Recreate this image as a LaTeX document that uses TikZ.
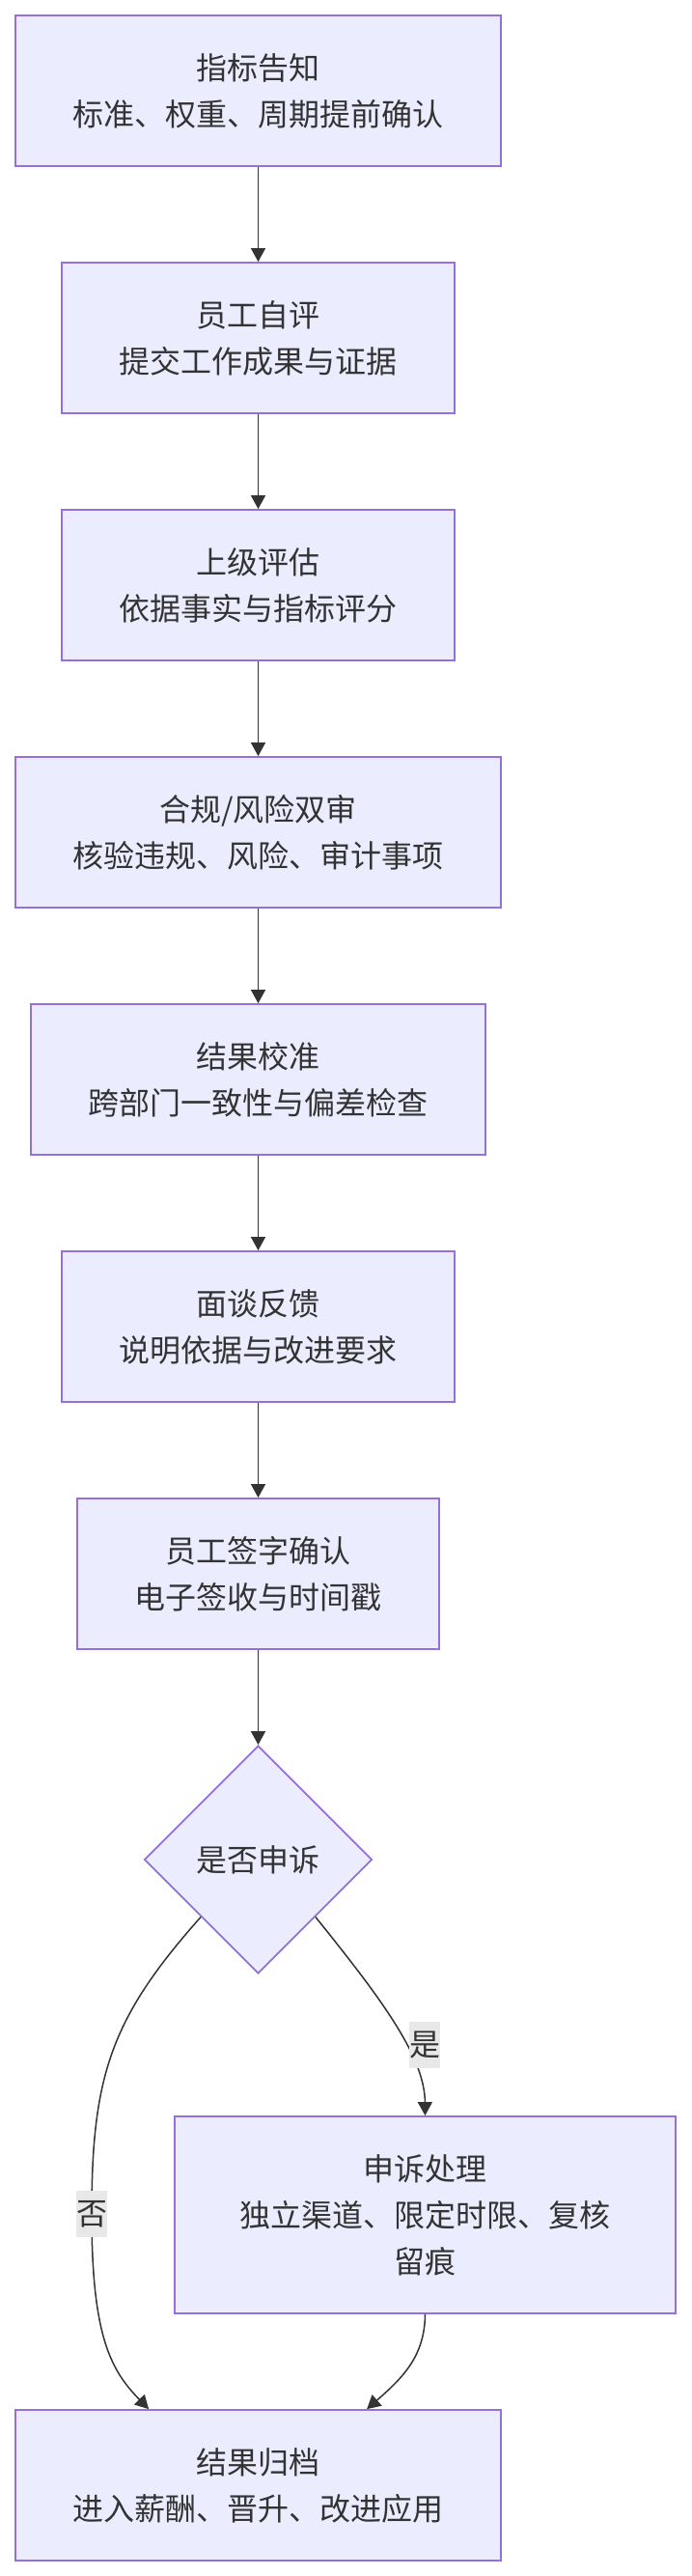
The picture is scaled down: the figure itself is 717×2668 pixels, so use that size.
\documentclass[tikz,border=0pt]{standalone}
\usepackage{fontspec}
\newfontfamily\cjk{Noto Sans CJK SC}
\usetikzlibrary{arrows.meta,shapes.geometric,calc}
\definecolor{boxfill}{HTML}{ECECFF}
\definecolor{boxline}{HTML}{9370DB}
\definecolor{txt}{HTML}{333333}
\definecolor{lblbg}{HTML}{E8E8E8}
\begin{document}
\begin{tikzpicture}[x=0.5pt,y=-0.5pt,
  every node/.style={text=txt},
  box/.style={draw=boxline,fill=boxfill,line width=0.9pt,rectangle,inner sep=0pt,
    align=center,font=\cjk\fontsize{16pt}{24pt}\selectfont,minimum height=78pt},
  dia/.style={draw=boxline,fill=boxfill,line width=0.9pt,diamond,aspect=1,inner sep=0pt,
    minimum width=118pt,minimum height=118pt,font=\cjk\fontsize{16pt}{24pt}\selectfont},
  lbl/.style={fill=lblbg,inner xsep=0pt,inner ysep=0pt,minimum height=24pt,
    font=\cjk\fontsize{16pt}{24pt}\selectfont},
  conn/.style={draw=txt,line width=0.75pt,-{Triangle[length=7pt,width=7.5pt]}}]
\useasboundingbox (0,0) rectangle (717,2668);
\fill[white] (0,0) rectangle (717,2668);
\node[box,minimum width=251.5pt] (n1) at (267.5,94) {指标告知\\标准、权重、周期提前确认};
\node[box,minimum width=203.5pt] (n2) at (267.5,350) {员工自评\\提交工作成果与证据};
\node[box,minimum width=203.5pt] (n3) at (267.5,606) {上级评估\\依据事实与指标评分};
\node[box,minimum width=251.5pt] (n4) at (267.5,862) {合规/风险双审\\核验违规、风险、审计事项};
\node[box,minimum width=235.75pt] (n5) at (267.5,1118) {结果校准\\跨部门一致性与偏差检查};
\node[box,minimum width=203.5pt] (n6) at (267.5,1374) {面谈反馈\\说明依据与改进要求};
\node[box,minimum width=187.5pt] (n7) at (267.5,1630) {员工签字确认\\电子签收与时间戳};
\node[dia] (d) at (267.5,1926) {是否申诉};
\node[box,minimum width=259.5pt,minimum height=102pt] (n9) at (440.5,2294) {申诉处理\\独立渠道、限定时限、复核\\留痕};
\node[box,minimum width=251.5pt] (n10) at (267.5,2574) {结果归档\\进入薪酬、晋升、改进应用};
\draw[conn] (n1) -- (n2);
\draw[conn] (n2) -- (n3);
\draw[conn] (n3) -- (n4);
\draw[conn] (n4) -- (n5);
\draw[conn] (n5) -- (n6);
\draw[conn] (n6) -- (n7);
\draw[conn] (n7) -- (d);
\draw[conn] (d.south east) .. controls (395,2070) and (440,2130) .. (n9.north)
  node[lbl] at (440,2118) {是};
\draw[conn] (d.south west) .. controls (115,2090) and (95,2150) .. (95,2293)
  node[lbl] {否}
  .. controls (95,2420) and (115,2455) .. ([xshift=69.5pt]n10.north west);
\draw[conn] (n9.south) .. controls (440,2440) and (418,2462) .. ([xshift=182.5pt]n10.north west);
\end{tikzpicture}
\end{document}
